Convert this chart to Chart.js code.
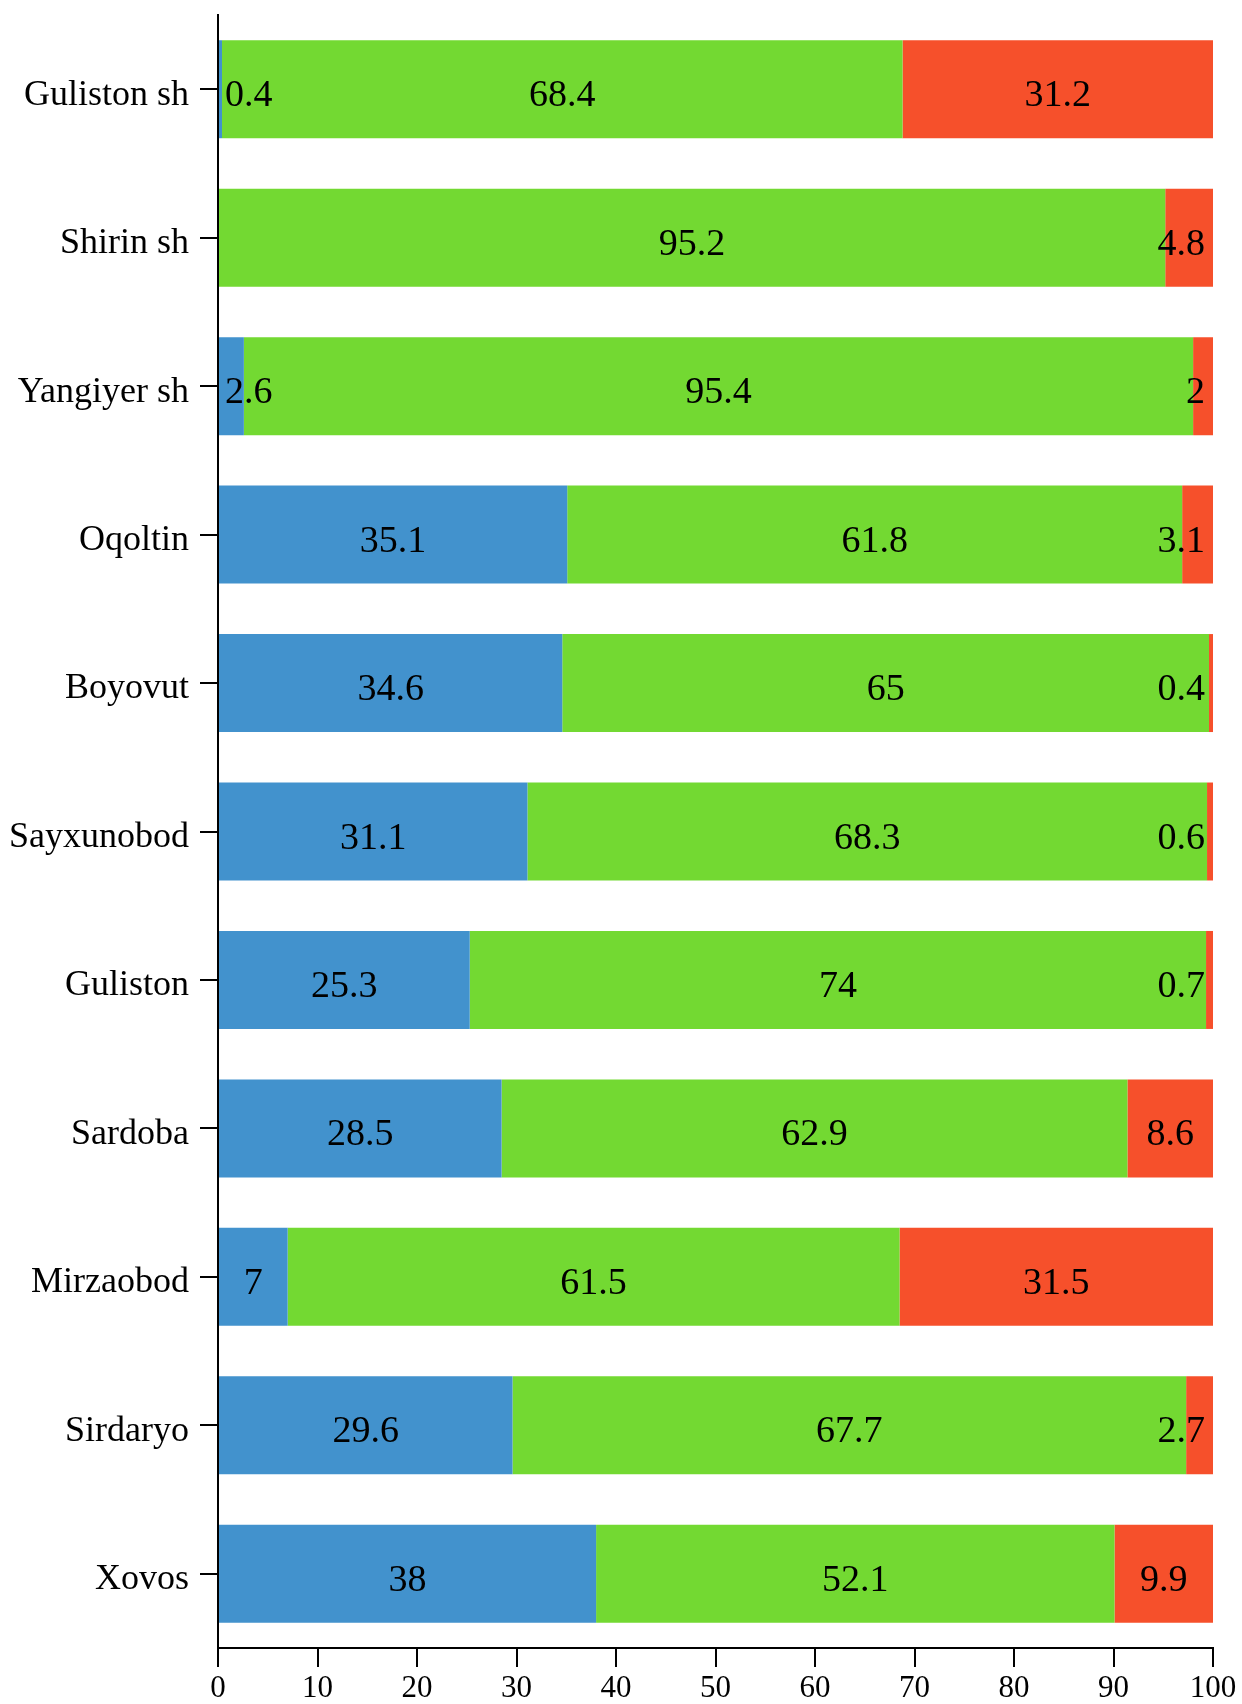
<!DOCTYPE html>
<html>
<head>
<meta charset="utf-8">
<script src="https://cdn.jsdelivr.net/npm/chart.js@4.4.1/dist/chart.umd.min.js"></script>
<style>
  html, body { margin: 0; padding: 0; background: #fff; }
  canvas { display: block; }
</style>
</head>
<body>
<canvas id="shareChart" width="1242" height="1704"></canvas>
<script>
// Districts, top to bottom
const districts = ["Guliston sh", "Shirin sh", "Yangiyer sh", "Oqoltin", "Boyovut",
  "Sayxunobod", "Guliston", "Sardoba", "Mirzaobod", "Sirdaryo", "Xovos"];

// Share of each group, percent
const blueValues = [0.4, 0, 2.6, 35.1, 34.6, 31.1, 25.3, 28.5, 7, 29.6, 38];
const greenValues = [68.4, 95.2, 95.4, 61.8, 65, 68.3, 74, 62.9, 61.5, 67.7, 52.1];
const redValues = [31.2, 4.8, 2, 3.1, 0.4, 0.6, 0.7, 8.6, 31.5, 2.7, 9.9];

const xTicks = [0, 10, 20, 30, 40, 50, 60, 70, 80, 90, 100];

Chart.defaults.font.family = "'Liberation Serif', 'Times New Roman', serif";
Chart.defaults.color = "#000";

// Draw the value in the middle of each segment, kept inside the plot
const segmentLabels = {
  id: "segmentLabels",
  afterDatasetsDraw(chart) {
    const ctx = chart.ctx;
    const area = chart.chartArea;
    ctx.save();
    ctx.font = "38px 'Liberation Serif', 'Times New Roman', serif";
    ctx.fillStyle = "#000";
    ctx.textAlign = "left";
    ctx.textBaseline = "alphabetic";
    chart.data.datasets.forEach((ds, i) => {
      const meta = chart.getDatasetMeta(i);
      meta.data.forEach((bar, j) => {
        const v = ds.data[j];
        if (!v) return;
        const p = bar.getProps(["x", "base", "y"], true);
        const text = String(v);
        const w = ctx.measureText(text).width;
        let left = (p.x + p.base) / 2 - w / 2;
        left = Math.max(left, area.left + 7);
        left = Math.min(left, area.right - 8 - w);
        ctx.fillText(text, left, p.y + 17);
      });
    });
    ctx.restore();
  }
};

new Chart(document.getElementById("shareChart").getContext("2d"), {
  type: "bar",
  data: {
    labels: districts,
    datasets: [
      { data: blueValues, backgroundColor: "#4292cd" },
      { data: greenValues, backgroundColor: "#73d932" },
      { data: redValues, backgroundColor: "#f6502b" },
    ],
  },
  options: {
    indexAxis: "y",
    responsive: false,
    animation: false,
    layout: { padding: { top: 15, right: 29, left: 0, bottom: 0 } },
    datasets: {
      bar: { barPercentage: 0.66, categoryPercentage: 1, borderWidth: 0 },
    },
    plugins: {
      legend: { display: false },
      tooltip: { enabled: false },
    },
    scales: {
      x: {
        stacked: true,
        min: 0,
        max: 100,
        afterBuildTicks(axis) {
          axis.ticks = xTicks.map((v) => ({ value: v }));
        },
        afterFit(axis) {
          axis.height = 56;
          axis.paddingLeft = 0;
          axis.paddingRight = 0;
        },
        border: { display: true, color: "#000", width: 2 },
        grid: {
          display: true,
          drawOnChartArea: false,
          drawTicks: true,
          tickLength: 19,
          color: "#000",
          lineWidth: 2,
        },
        ticks: { font: { size: 31 }, padding: 3, maxRotation: 0 },
      },
      y: {
        stacked: true,
        afterFit(axis) {
          axis.width = 218;
          axis.paddingTop = 0;
          axis.paddingBottom = 0;
        },
        border: { display: true, color: "#000", width: 2 },
        grid: {
          display: true,
          offset: false,
          drawOnChartArea: false,
          drawTicks: true,
          tickLength: 18,
          color: "#000",
          lineWidth: 2,
        },
        ticks: { font: { size: 36 }, padding: 11, labelOffset: 6, autoSkip: false },
      },
    },
  },
  plugins: [segmentLabels],
});
</script>
</body>
</html>
